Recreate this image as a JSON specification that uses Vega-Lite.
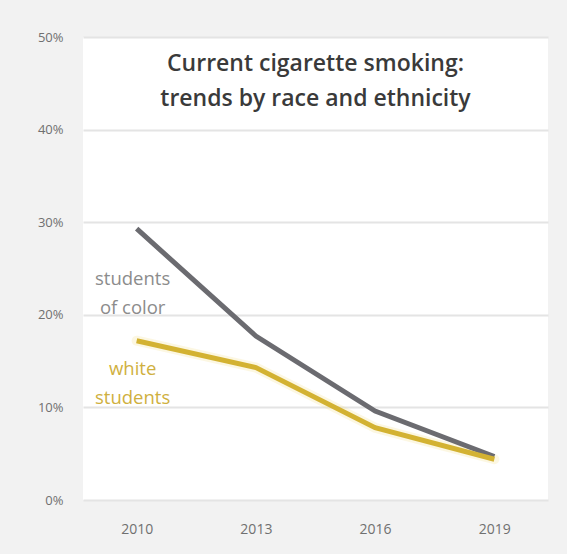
{
  "$schema": "https://vega.github.io/schema/vega-lite/v6.json",
  "autosize": "none",
  "width": 465,
  "height": 463,
  "padding": {"left": 83, "top": 37, "right": 19, "bottom": 54},
  "background": "#f2f2f2",
  "config": {
    "view": {"fill": "white", "stroke": null},
    "font": "Open Sans"
  },
  "title": {
    "text": ["Current cigarette smoking:", "trends by race and ethnicity"],
    "orient": "top",
    "anchor": "middle",
    "frame": "group",
    "baseline": "top",
    "offset": -80,
    "fontSize": 23,
    "fontWeight": 600,
    "font": "Open Sans",
    "color": "#3a3a3a",
    "lineHeight": 35
  },
  "datasets": {
    "rates": [
      {"year": "2010", "group": "students of color", "rate": 0.293},
      {"year": "2013", "group": "students of color", "rate": 0.177},
      {"year": "2016", "group": "students of color", "rate": 0.096},
      {"year": "2019", "group": "students of color", "rate": 0.047},
      {"year": "2010", "group": "white students", "rate": 0.172},
      {"year": "2013", "group": "white students", "rate": 0.143},
      {"year": "2016", "group": "white students", "rate": 0.078},
      {"year": "2019", "group": "white students", "rate": 0.044}
    ],
    "labels": [
      {"year": "2010", "group": "students of color", "rate": 0.239, "label": "students\nof color"},
      {"year": "2010", "group": "white students", "rate": 0.142, "label": "white\nstudents"}
    ]
  },
  "encoding": {
    "x": {
      "field": "year",
      "type": "ordinal",
      "scale": {"type": "point", "padding": 0.45},
      "axis": {
        "title": null,
        "labelAngle": 0,
        "domain": false,
        "ticks": false,
        "labelPadding": 22,
        "labelFontSize": 14,
        "labelColor": "#707070",
        "grid": false
      }
    },
    "y": {
      "field": "rate",
      "type": "quantitative",
      "scale": {"domain": [0, 0.5], "nice": false},
      "axis": {
        "title": null,
        "format": ".0%",
        "values": [0, 0.1, 0.2, 0.3, 0.4, 0.5],
        "domain": false,
        "ticks": false,
        "labelPadding": 20,
        "labelFontSize": 13,
        "labelColor": "#707070",
        "gridColor": "#e4e4e4",
        "gridWidth": 2
      }
    }
  },
  "layer": [
    {
      "data": {"name": "rates"},
      "mark": {"type": "line", "strokeWidth": 10, "opacity": 0.25, "strokeCap": "round"},
      "transform": [{"filter": "datum.group === 'white students'"}],
      "encoding": {"color": {"value": "#f4e08a"}, "detail": {"field": "group"}}
    },
    {
      "data": {"name": "rates"},
      "mark": {"type": "line", "strokeWidth": 5, "strokeCap": "butt"},
      "encoding": {
        "color": {
          "field": "group",
          "type": "nominal",
          "scale": {"domain": ["students of color", "white students"], "range": ["#6b6b70", "#d3b232"]},
          "legend": null
        }
      }
    },
    {
      "data": {"name": "labels"},
      "mark": {"type": "text", "align": "center", "baseline": "middle", "dx": -4, "fontSize": 18.5, "lineBreak": "\n", "lineHeight": 29, "font": "Open Sans"},
      "encoding": {
        "text": {"field": "label"},
        "color": {
          "field": "group",
          "type": "nominal",
          "scale": {"domain": ["students of color", "white students"], "range": ["#8c8c8c", "#cfb040"]},
          "legend": null
        }
      }
    }
  ],
  "resolve": {"scale": {"color": "independent"}}
}
